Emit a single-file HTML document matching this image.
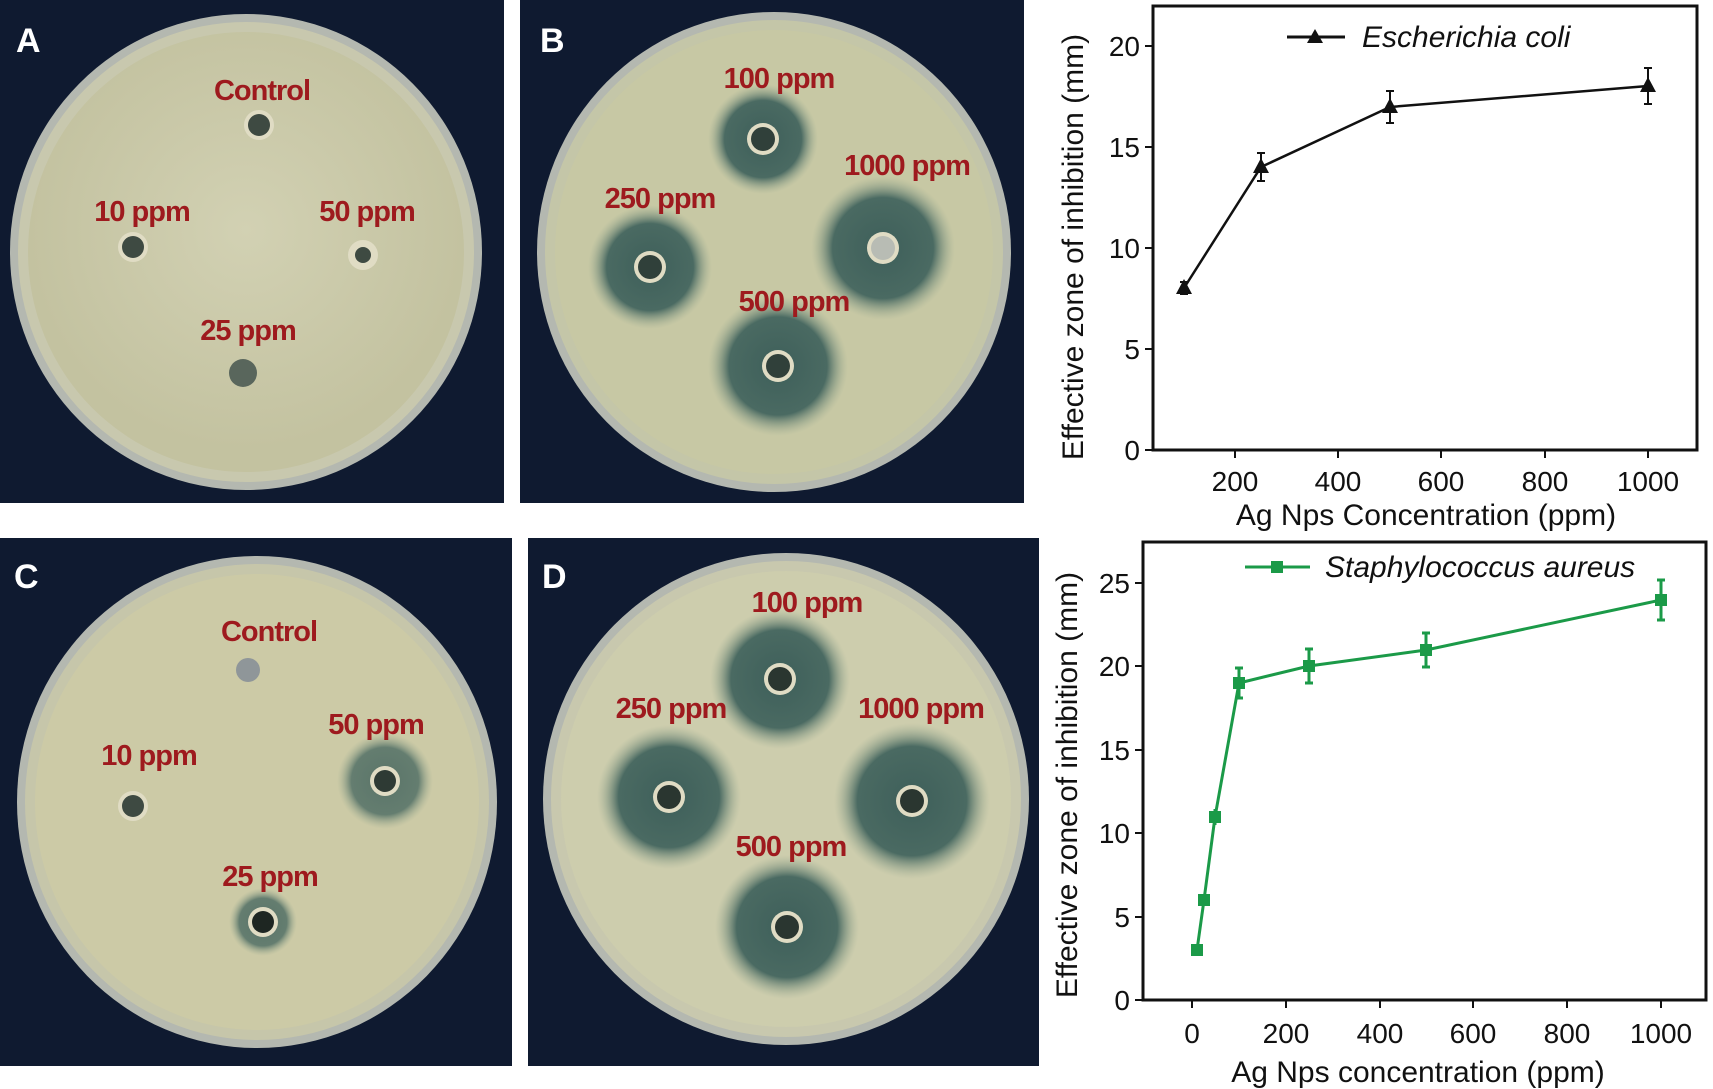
<!DOCTYPE html>
<html><head><meta charset="utf-8"><style>
html,body{margin:0;padding:0;background:#fff}
svg{display:block}
.lbl{font-family:"Liberation Sans",sans-serif;font-weight:bold;fill:#9e1a1e;font-size:29px;text-anchor:middle;letter-spacing:-1px}
.pl{font-family:"Liberation Sans",sans-serif;font-weight:bold;fill:#fff;font-size:34px}
.tk{font-family:"Liberation Sans",sans-serif;font-size:28px;fill:#111}
.ti{font-family:"Liberation Sans",sans-serif;font-size:30px;fill:#111}
</style></head><body>
<svg width="1713" height="1089" viewBox="0 0 1713 1089" xmlns="http://www.w3.org/2000/svg">
<defs>
<radialGradient id="zone"><stop offset="0" stop-color="#3e5f5a"/><stop offset="0.7" stop-color="#4a6a62"/><stop offset="1" stop-color="#9aab93" stop-opacity="0"/></radialGradient>
<radialGradient id="agar" cx="0.5" cy="0.45"><stop offset="0" stop-color="#d2d1b3"/><stop offset="1" stop-color="#c3c2a0"/></radialGradient>
</defs>
<!-- Plate A -->
<rect x="0" y="0" width="504" height="503" fill="#0f1a30"/>
<ellipse cx="246" cy="252" rx="236" ry="238" fill="#b4b8b0"/>
<ellipse cx="246" cy="252" rx="228" ry="230" fill="#c8c8ae"/>
<ellipse cx="246" cy="252" rx="218" ry="220" fill="url(#agar)"/>
<circle cx="259" cy="125" r="15" fill="#e0dcc4"/><circle cx="259" cy="125" r="11" fill="#3e4a42"/>
<circle cx="133" cy="247" r="15" fill="#e0dcc4"/><circle cx="133" cy="247" r="11" fill="#3e4a42"/>
<circle cx="363" cy="255" r="15" fill="#e0dcc4"/><circle cx="363" cy="255" r="8" fill="#3e4a42"/>
<circle cx="243" cy="373" r="14" fill="#59665c"/>
<text class="lbl" x="262" y="100">Control</text>
<text class="lbl" x="142" y="221">10 ppm</text>
<text class="lbl" x="367" y="221">50 ppm</text>
<text class="lbl" x="248" y="340">25 ppm</text>
<text class="pl" x="16" y="52">A</text>
<!-- Plate B -->
<rect x="520" y="0" width="504" height="503" fill="#0f1a30"/>
<ellipse cx="774" cy="252" rx="237" ry="240" fill="#b4b8b0"/>
<ellipse cx="774" cy="252" rx="229" ry="232" fill="#c4c6a8"/>
<ellipse cx="774" cy="252" rx="219" ry="222" fill="#c7c8a4"/>
<circle cx="763" cy="139" r="55" fill="url(#zone)"/>
<circle cx="883" cy="248" r="72" fill="url(#zone)"/>
<circle cx="650" cy="267" r="62" fill="url(#zone)"/>
<circle cx="778" cy="366" r="70" fill="url(#zone)"/>
<g fill="#e0dcc4"><circle cx="763" cy="139" r="16"/><circle cx="883" cy="248" r="16"/><circle cx="650" cy="267" r="16"/><circle cx="778" cy="366" r="16"/></g>
<g fill="#30403a"><circle cx="763" cy="139" r="12"/><circle cx="883" cy="248" r="12" fill="#b8bcb4"/><circle cx="650" cy="267" r="12"/><circle cx="778" cy="366" r="12"/></g>
<text class="lbl" x="779" y="88">100 ppm</text>
<text class="lbl" x="907" y="175">1000 ppm</text>
<text class="lbl" x="660" y="208">250 ppm</text>
<text class="lbl" x="794" y="311">500 ppm</text>
<text class="pl" x="540" y="52">B</text>
<!-- Plate C -->
<rect x="0" y="538" width="512" height="528" fill="#0f1a30"/>
<ellipse cx="257" cy="802" rx="240" ry="246" fill="#b4b8b0"/>
<ellipse cx="257" cy="802" rx="232" ry="238" fill="#c6c6aa"/>
<ellipse cx="257" cy="802" rx="222" ry="228" fill="#cccaa6"/>
<circle cx="385" cy="781" r="48" fill="url(#zone)" opacity="0.8"/>
<circle cx="263" cy="922" r="34" fill="url(#zone)" opacity="0.8"/>
<circle cx="248" cy="670" r="12" fill="#8f9699"/>
<circle cx="133" cy="806" r="15" fill="#e0dcc4"/><circle cx="133" cy="806" r="11" fill="#3e4a42"/>
<circle cx="385" cy="781" r="15" fill="#e0dcc4"/><circle cx="385" cy="781" r="11" fill="#2e3a34"/>
<circle cx="263" cy="922" r="15" fill="#e0dcc4"/><circle cx="263" cy="922" r="11" fill="#1e2622"/>
<text class="lbl" x="269" y="641">Control</text>
<text class="lbl" x="149" y="765">10 ppm</text>
<text class="lbl" x="376" y="734">50 ppm</text>
<text class="lbl" x="270" y="886">25 ppm</text>
<text class="pl" x="14" y="588">C</text>
<!-- Plate D -->
<rect x="528" y="538" width="511" height="528" fill="#0f1a30"/>
<ellipse cx="786" cy="799" rx="243" ry="246" fill="#b4b8b0"/>
<ellipse cx="786" cy="799" rx="235" ry="238" fill="#c8c8ae"/>
<ellipse cx="786" cy="799" rx="225" ry="228" fill="#cdcdad"/>
<circle cx="780" cy="679" r="70" fill="url(#zone)"/>
<circle cx="669" cy="797" r="72" fill="url(#zone)"/>
<circle cx="912" cy="801" r="78" fill="url(#zone)"/>
<circle cx="787" cy="927" r="72" fill="url(#zone)"/>
<g fill="#e0dcc4"><circle cx="780" cy="679" r="16"/><circle cx="669" cy="797" r="16"/><circle cx="912" cy="801" r="16"/><circle cx="787" cy="927" r="16"/></g>
<g fill="#2a3630"><circle cx="780" cy="679" r="12"/><circle cx="669" cy="797" r="12"/><circle cx="912" cy="801" r="12"/><circle cx="787" cy="927" r="12"/></g>
<text class="lbl" x="807" y="612">100 ppm</text>
<text class="lbl" x="671" y="718">250 ppm</text>
<text class="lbl" x="921" y="718">1000 ppm</text>
<text class="lbl" x="791" y="856">500 ppm</text>
<text class="pl" x="542" y="588">D</text>

<!-- Chart 1 -->
<rect x="1153" y="6" width="544" height="444" fill="none" stroke="#111" stroke-width="3"/>
<g stroke="#111" stroke-width="2">
<line x1="1145" y1="450" x2="1153" y2="450"/><line x1="1145" y1="349" x2="1153" y2="349"/><line x1="1145" y1="248" x2="1153" y2="248"/><line x1="1145" y1="147" x2="1153" y2="147"/><line x1="1145" y1="46" x2="1153" y2="46"/>
<line x1="1235" y1="450" x2="1235" y2="458"/><line x1="1338" y1="450" x2="1338" y2="458"/><line x1="1441" y1="450" x2="1441" y2="458"/><line x1="1545" y1="450" x2="1545" y2="458"/><line x1="1648" y1="450" x2="1648" y2="458"/>
</g>
<g class="tk" text-anchor="end"><text x="1140" y="460">0</text><text x="1140" y="359">5</text><text x="1140" y="258">10</text><text x="1140" y="157">15</text><text x="1140" y="56">20</text></g>
<g class="tk" text-anchor="middle"><text x="1235" y="491">200</text><text x="1338" y="491">400</text><text x="1441" y="491">600</text><text x="1545" y="491">800</text><text x="1648" y="491">1000</text></g>
<text class="ti" x="1426" y="525" text-anchor="middle">Ag Nps Concentration (ppm)</text>
<text class="ti" transform="translate(1083,247) rotate(-90)" text-anchor="middle">Effective zone of inhibition (mm)</text>
<polyline points="1184,288 1261,167 1390,107 1648,86" fill="none" stroke="#111" stroke-width="2.5"/>
<g stroke="#111" stroke-width="2">
<line x1="1184" y1="282" x2="1184" y2="294"/><line x1="1180" y1="282" x2="1188" y2="282"/><line x1="1180" y1="294" x2="1188" y2="294"/>
<line x1="1261" y1="153" x2="1261" y2="181"/><line x1="1257" y1="153" x2="1265" y2="153"/><line x1="1257" y1="181" x2="1265" y2="181"/>
<line x1="1390" y1="91" x2="1390" y2="123"/><line x1="1386" y1="91" x2="1394" y2="91"/><line x1="1386" y1="123" x2="1394" y2="123"/>
<line x1="1648" y1="68" x2="1648" y2="104"/><line x1="1644" y1="68" x2="1652" y2="68"/><line x1="1644" y1="104" x2="1652" y2="104"/>
</g>
<g fill="#111"><polygon points="1184,279 1176,294 1192,294"/><polygon points="1261,158 1253,173 1269,173"/><polygon points="1390,98 1382,113 1398,113"/><polygon points="1648,77 1640,92 1656,92"/>
<polygon points="1315,29 1307,43 1323,43"/></g>
<line x1="1287" y1="37" x2="1345" y2="37" stroke="#111" stroke-width="3"/>
<text class="ti" x="1362" y="47" font-style="italic">Escherichia coli</text>

<!-- Chart 2 -->
<rect x="1143" y="542" width="563" height="458" fill="none" stroke="#111" stroke-width="3"/>
<g stroke="#111" stroke-width="2">
<line x1="1135" y1="1000" x2="1143" y2="1000"/><line x1="1135" y1="917" x2="1143" y2="917"/><line x1="1135" y1="833" x2="1143" y2="833"/><line x1="1135" y1="750" x2="1143" y2="750"/><line x1="1135" y1="666" x2="1143" y2="666"/><line x1="1135" y1="583" x2="1143" y2="583"/>
<line x1="1192" y1="1000" x2="1192" y2="1008"/><line x1="1286" y1="1000" x2="1286" y2="1008"/><line x1="1380" y1="1000" x2="1380" y2="1008"/><line x1="1473" y1="1000" x2="1473" y2="1008"/><line x1="1567" y1="1000" x2="1567" y2="1008"/><line x1="1661" y1="1000" x2="1661" y2="1008"/>
</g>
<g class="tk" text-anchor="end"><text x="1130" y="1010">0</text><text x="1130" y="927">5</text><text x="1130" y="843">10</text><text x="1130" y="760">15</text><text x="1130" y="676">20</text><text x="1130" y="593">25</text></g>
<g class="tk" text-anchor="middle"><text x="1192" y="1043">0</text><text x="1286" y="1043">200</text><text x="1380" y="1043">400</text><text x="1473" y="1043">600</text><text x="1567" y="1043">800</text><text x="1661" y="1043">1000</text></g>
<text class="ti" x="1418" y="1082" text-anchor="middle">Ag Nps concentration (ppm)</text>
<text class="ti" transform="translate(1077,785) rotate(-90)" text-anchor="middle">Effective zone of inhibition (mm)</text>
<g stroke="#1b9a48" stroke-width="3" fill="none">
<polyline points="1197,950 1204,900 1215,817 1239,683 1309,666 1426,650 1661,600"/>
<line x1="1197" y1="945" x2="1197" y2="955"/>
<line x1="1204" y1="895" x2="1204" y2="905"/>
<line x1="1215" y1="809" x2="1215" y2="825"/>
<line x1="1239" y1="668" x2="1239" y2="698"/><line x1="1235" y1="668" x2="1243" y2="668"/><line x1="1235" y1="698" x2="1243" y2="698"/>
<line x1="1309" y1="649" x2="1309" y2="683"/><line x1="1305" y1="649" x2="1313" y2="649"/><line x1="1305" y1="683" x2="1313" y2="683"/>
<line x1="1426" y1="633" x2="1426" y2="667"/><line x1="1422" y1="633" x2="1430" y2="633"/><line x1="1422" y1="667" x2="1430" y2="667"/>
<line x1="1661" y1="580" x2="1661" y2="620"/><line x1="1657" y1="580" x2="1665" y2="580"/><line x1="1657" y1="620" x2="1665" y2="620"/>
<line x1="1245" y1="567" x2="1310" y2="567"/>
</g>
<g fill="#1b9a48">
<rect x="1191" y="944" width="12" height="12"/><rect x="1198" y="894" width="12" height="12"/><rect x="1209" y="811" width="12" height="12"/><rect x="1233" y="677" width="12" height="12"/><rect x="1303" y="660" width="12" height="12"/><rect x="1420" y="644" width="12" height="12"/><rect x="1655" y="594" width="12" height="12"/><rect x="1271" y="561" width="12" height="12"/>
</g>
<text class="ti" x="1325" y="577" font-style="italic">Staphylococcus aureus</text>
</svg>
</body></html>
